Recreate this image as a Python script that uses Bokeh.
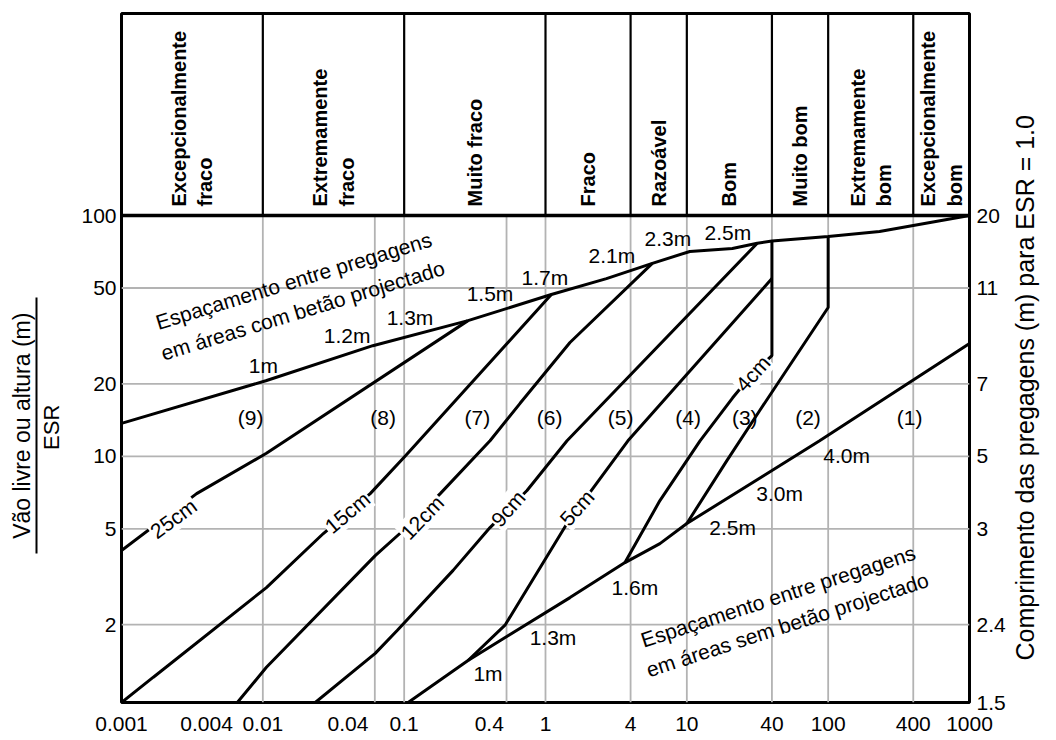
import math
from bokeh.plotting import figure
from bokeh.models import Range1d, LogAxis, FixedTicker, Span
from bokeh.core.properties import value
from bokeh.embed import file_html
from bokeh.resources import INLINE

FONT = "Liberation Sans"

# ---------------- data ----------------
quality_classes = ["Excepcionalmente\nfraco", "Extremamente\nfraco", "Muito fraco", "Fraco",
                   "Razoável", "Bom", "Muito bom", "Extremamente\nbom", "Excepcionalmente\nbom"]
class_bounds = [0.001, 0.01, 0.1, 1, 4, 10, 40, 100, 400, 1000]

x_ticks = [0.001, 0.004, 0.01, 0.04, 0.1, 0.4, 1, 4, 10, 40, 100, 400, 1000]
y_ticks = [2, 5, 10, 20, 50, 100]
bolt_ticks = [0.95, 2, 5, 10, 20, 50, 100]
bolt_labels = ["1.5", "2.4", "3", "5", "7", "11", "20"]
grid_x = [0.01, 0.062, 0.1, 0.53, 1, 4, 10, 40, 100, 400]
grid_y = [2, 5, 10, 20, 50]

Y_MIN, Y_MAX, HEADER_TOP = 0.95, 100, 690
X_MIN, X_MAX = 0.001, 1000

# bolt spacing line in shotcreted areas (upper boundary)
shot_spacing_q = [0.001, 0.0105, 0.06, 0.283, 1.1, 2.7, 5.7, 10.5, 21, 31.5, 40, 100, 231, 1000]
shot_spacing_v = [13.7, 20.6, 28.8, 36.6, 47, 54.7, 63.3, 70.9, 72.9, 76.7, 78.3, 81.8, 85.8, 100]
# shotcrete thickness boundaries
line_25cm_q = [0.001, 0.0034, 0.0106, 0.283]
line_25cm_v = [4.06, 7.0, 10.3, 36.6]
line_15cm_q = [0.001, 0.00168, 0.0106, 0.0268, 0.0575, 0.103, 1.1]
line_15cm_v = [0.95, 1.21, 2.85, 4.78, 7.0, 10.1, 47]
line_12cm_q = [0.0066, 0.0106, 0.0624, 0.0984, 0.18, 0.405, 0.661, 1.49, 5.7]
line_12cm_v = [0.95, 1.33, 3.87, 4.92, 7.0, 11.6, 16.6, 29.7, 63.3]
line_9cm_q = [0.0235, 0.0624, 0.0892, 0.222, 0.405, 0.74, 1.42, 31.5]
line_9cm_v = [0.95, 1.52, 1.89, 3.36, 5.06, 7.21, 11.6, 76.7]
line_5cm_q = [0.283, 0.517, 1.42, 3.83, 40]
line_5cm_v = [1.42, 1.99, 5.26, 11.6, 54.7]
line_4cm_q = [3.65, 6.45, 12.4, 21.1, 29.3, 40, 40]
line_4cm_v = [3.62, 6.55, 11.6, 17.5, 22.1, 26.2, 78.3]
line_spot_q = [10, 19.2, 32.8, 100, 100]
line_spot_v = [5.26, 9.6, 15.5, 41.5, 81.8]
# bolt spacing line in areas without shotcrete (lower boundary)
noshot_spacing_q = [0.1067, 0.283, 1.49, 3.65, 6.45, 10, 87, 1000]
noshot_spacing_v = [0.95, 1.42, 2.59, 3.62, 4.34, 5.26, 11.6, 29.4]

shot_labels = ["1m", "1.2m", "1.3m", "1.5m", "1.7m", "2.1m", "2.3m", "2.5m"]
shot_label_q = [0.0101, 0.0395, 0.110, 0.405, 0.99, 2.95, 7.35, 19.5]
shot_label_v = [23.8, 31.8, 37.7, 47.4, 55.3, 68.2, 80.2, 85.0]
noshot_labels = ["1m", "1.3m", "1.6m", "2.5m", "3.0m", "4.0m"]
noshot_label_q = [0.392, 1.13, 4.29, 21.1, 45.4, 135]
noshot_label_v = [1.25, 1.77, 2.85, 5.06, 7.0, 10.1]
thickness_labels = ["25cm", "15cm", "12cm", "9cm", "5cm", "4cm"]
thickness_q = [0.00233, 0.0396, 0.134, 0.543, 1.67, 29.3]
thickness_v = [5.52, 5.84, 5.57, 6.07, 6.12, 22.1]
thickness_angle = [36, 40, 46, 49, 48, 48]
region_labels = ["(9)", "(8)", "(7)", "(6)", "(5)", "(4)", "(3)", "(2)", "(1)"]
region_q = [0.0082, 0.071, 0.33, 1.07, 3.4, 10.2, 25.7, 72, 377]
region_v = [14.5] * 9

left_title = "Vão livre ou altura (m)"
left_title_v = 13.4
esr_title = "ESR"
esr_v = 13.2
fraction_bar = (3.95, 45.7)
right_title = "Comprimento das pregagens (m) para ESR = 1.0"
right_title_v = 12.7

# ---------------- figure ----------------
p = figure(width=1056, height=740, x_axis_type="log", y_axis_type="log",
           x_range=Range1d(X_MIN, X_MAX), y_range=Range1d(Y_MIN, HEADER_TOP),
           output_backend="svg", toolbar_location=None, title=None,
           min_border_left=121, min_border_right=86, min_border_top=13, min_border_bottom=38)
p.xgrid.visible = False
p.ygrid.visible = False
p.outline_line_color = "black"
p.outline_line_width = 3
p.outline_line_alpha = 1.0
p.background_fill_color = "white"
p.border_fill_color = "white"


def style_axis(ax, size="21px"):
    ax.axis_line_color = None
    ax.major_tick_out = 0
    ax.major_tick_in = 0
    ax.minor_tick_out = 0
    ax.minor_tick_in = 0
    ax.major_label_text_font = FONT
    ax.major_label_text_font_size = size
    ax.major_label_text_color = "black"


xa = p.xaxis[0]
style_axis(xa)
xa.ticker = FixedTicker(ticks=x_ticks)
xa.major_label_overrides = {t: f"{t:g}" for t in x_ticks}
xa.major_label_standoff = 14

ya = p.yaxis[0]
style_axis(ya)
ya.ticker = FixedTicker(ticks=y_ticks)
ya.major_label_overrides = {t: f"{t:g}" for t in y_ticks}
ya.major_label_standoff = 5

esr_axis = LogAxis(ticker=FixedTicker(ticks=[esr_v]))
style_axis(esr_axis, "22px")
esr_axis.major_label_overrides = {esr_v: esr_title}
esr_axis.major_label_orientation = "vertical"
esr_axis.major_label_standoff = 14
p.add_layout(esr_axis, "left")

frac_axis = LogAxis(ticker=FixedTicker(ticks=[left_title_v]), bounds=fraction_bar)
style_axis(frac_axis, "23px")
frac_axis.axis_line_color = "black"
frac_axis.axis_line_width = 2
frac_axis.major_label_overrides = {left_title_v: left_title}
frac_axis.major_label_orientation = "vertical"
frac_axis.major_label_standoff = 1
p.add_layout(frac_axis, "left")

ra = LogAxis(ticker=FixedTicker(ticks=bolt_ticks))
style_axis(ra)
ra.major_label_overrides = dict(zip(bolt_ticks, bolt_labels))
ra.major_label_standoff = 7
p.add_layout(ra, "right")

rt_axis = LogAxis(ticker=FixedTicker(ticks=[right_title_v]))
style_axis(rt_axis, "25px")
rt_axis.major_label_overrides = {right_title_v: right_title}
rt_axis.major_label_orientation = math.pi / 2
rt_axis.major_label_standoff = 17
p.add_layout(rt_axis, "right")

# grid (only in the chart area, below the header)
GRID = "#b3b3b3"
p.segment(x0=grid_x, y0=[Y_MIN] * len(grid_x), x1=grid_x, y1=[Y_MAX] * len(grid_x),
          line_color=GRID, line_width=1.8)
p.segment(x0=[X_MIN] * len(grid_y), y0=grid_y, x1=[X_MAX] * len(grid_y), y1=grid_y,
          line_color=GRID, line_width=1.8)

# header
inner = class_bounds[1:-1]
p.segment(x0=inner, y0=[Y_MAX] * len(inner), x1=inner, y1=[HEADER_TOP] * len(inner),
          line_color="black", line_width=2.2)
p.add_layout(Span(location=Y_MAX, dimension="width", line_color="black", line_width=3.5))
header_x = [math.sqrt(a * b) for a, b in zip(class_bounds[:-1], class_bounds[1:])]
p.text(x=header_x, y=[Y_MAX * 1.09] * len(header_x), text=quality_classes,
       angle=math.pi / 2, text_align="left", text_baseline="middle",
       text_font=value(FONT), text_font_size="20px", text_font_style="bold",
       text_color="black", text_line_height=1.2)

# support boundary lines
curves = [
    (shot_spacing_q, shot_spacing_v),
    (line_25cm_q, line_25cm_v),
    (line_15cm_q, line_15cm_v),
    (line_12cm_q, line_12cm_v),
    (line_9cm_q, line_9cm_v),
    (line_5cm_q, line_5cm_v),
    (line_4cm_q, line_4cm_v),
    (line_spot_q, line_spot_v),
    (noshot_spacing_q, noshot_spacing_v),
]
for q, v in curves:
    p.line(q, v, line_color="black", line_width=3)

txt = dict(text_font=value(FONT), text_font_size="21px", text_color="black",
           text_align="center", text_baseline="middle")
p.text(x=shot_label_q, y=shot_label_v, text=shot_labels, **txt)
p.text(x=noshot_label_q, y=noshot_label_v, text=noshot_labels, **txt)
p.text(x=region_q, y=region_v, text=region_labels, **txt)
p.text(x=thickness_q, y=thickness_v, text=thickness_labels,
       angle=[math.radians(a) for a in thickness_angle],
       background_fill_color="white", padding=1, **txt)

p.text(x=[0.0178], y=[46.5], text=["Espaçamento entre pregagens\nem áreas com betão projectado"],
       angle=math.radians(17), text_line_height=1.35, **txt)
p.text(x=[47.7], y=[2.29], text=["Espaçamento entre pregagens\nem áreas sem betão projectado"],
       angle=math.radians(18), text_line_height=1.3, **txt)

open("out.html", "w").write(file_html(p, INLINE))
